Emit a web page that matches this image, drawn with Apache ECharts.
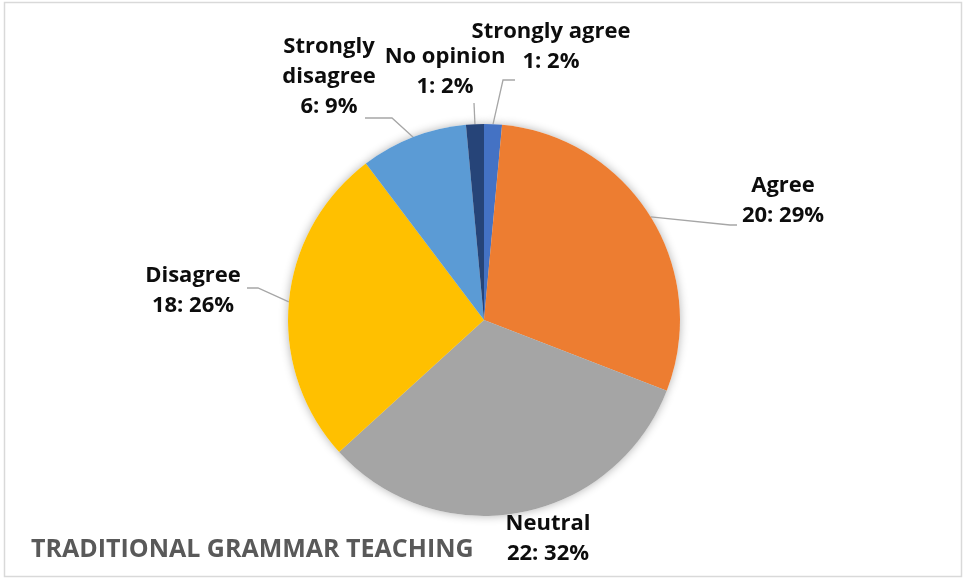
<!DOCTYPE html>
<html>
<head>
<meta charset="utf-8">
<script src="https://cdn.jsdelivr.net/npm/echarts@6/dist/echarts.min.js"></script>
<style>
  html, body { margin: 0; padding: 0; background: #fff; }
  #chart { width: 963px; height: 578px; }
</style>
</head>
<body>
<div id="chart"></div>
<script>
// Survey responses on traditional grammar teaching
const categories = ['Strongly agree', 'Agree', 'Neutral', 'Disagree', 'Strongly disagree', 'No opinion'];
const counts = [1, 20, 22, 18, 6, 1];
const percentLabels = ['2%', '29%', '32%', '26%', '9%', '2%'];
const sliceColors = ['#4472C4', '#ED7D31', '#A5A5A5', '#FFC000', '#5B9BD5', '#264478'];

const FONT = '"Open Sans", sans-serif';

// Where each label block sits (centre) and where its leader line ends
const labelSpots = [
  { cx: 551, cy: 47, end: [515, 80], bend: -12 },
  { cx: 783, cy: 201, end: [737, 225], bend: -7 },
  { cx: 548, cy: 539, end: null },
  { cx: 193, cy: 291, end: [247, 288], bend: 11 },
  { cx: 329, cy: 77, end: [365, 118], bend: 27 },
  { cx: 445, cy: 72, end: [474, 103], bend: 0 }
];

const data = categories.map((name, i) => ({
  name: name,
  value: counts[i],
  itemStyle: { color: sliceColors[i] },
  labelLine: { show: labelSpots[i].end !== null }
}));

const chart = echarts.init(document.getElementById('chart'), null, { renderer: 'canvas' });

chart.setOption({
  animation: false,
  title: {
    text: 'TRADITIONAL GRAMMAR TEACHING',
    left: 26,
    top: 532,
    textStyle: { fontFamily: FONT, fontSize: 25, fontWeight: 'bold', color: '#595959' }
  },
  graphic: [{
    type: 'rect',
    shape: { x: 4.5, y: 2.5, width: 957, height: 574 },
    style: { fill: 'none', stroke: '#d9d9d9', lineWidth: 1.5 },
    z: -10,
    silent: true
  }],
  series: [
    {
      // soft shadow beneath the pie
      type: 'pie',
      center: [484, 320],
      radius: 196,
      startAngle: 90,
      clockwise: true,
      silent: true,
      z: 1,
      label: { show: false },
      labelLine: { show: false },
      itemStyle: { color: '#fff', shadowBlur: 10, shadowColor: 'rgba(0,0,0,0.3)' },
      data: counts.map(v => ({ value: v }))
    },
    {
      type: 'pie',
      center: [484, 320],
      radius: 196,
      startAngle: 90,
      clockwise: true,
      z: 2,
      avoidLabelOverlap: false,
      itemStyle: { borderWidth: 0 },
      label: {
        show: true,
        position: 'outside',
        fontFamily: FONT,
        fontSize: 22,
        fontWeight: 'bold',
        color: '#0d0d0d',
        lineHeight: 30,
        align: 'center',
        formatter: p => {
          const name = p.dataIndex === 4 ? p.name.replace(' ', '\n') : p.name;
          return name + '\n' + p.value + ': ' + percentLabels[p.dataIndex];
        }
      },
      labelLine: {
        show: true,
        lineStyle: { color: '#a6a6a6', width: 1.3 }
      },
      labelLayout: params => {
        const s = labelSpots[params.dataIndex];
        const out = { x: s.cx, y: s.cy, align: 'center', verticalAlign: 'middle' };
        if (s.end && params.labelLinePoints) {
          const a = params.labelLinePoints[0];
          out.labelLinePoints = [
            [a[0], a[1]],
            [s.end[0] + s.bend, s.end[1]],
            [s.end[0], s.end[1]]
          ];
        }
        return out;
      },
      data: data
    }
  ]
});
</script>
</body>
</html>
